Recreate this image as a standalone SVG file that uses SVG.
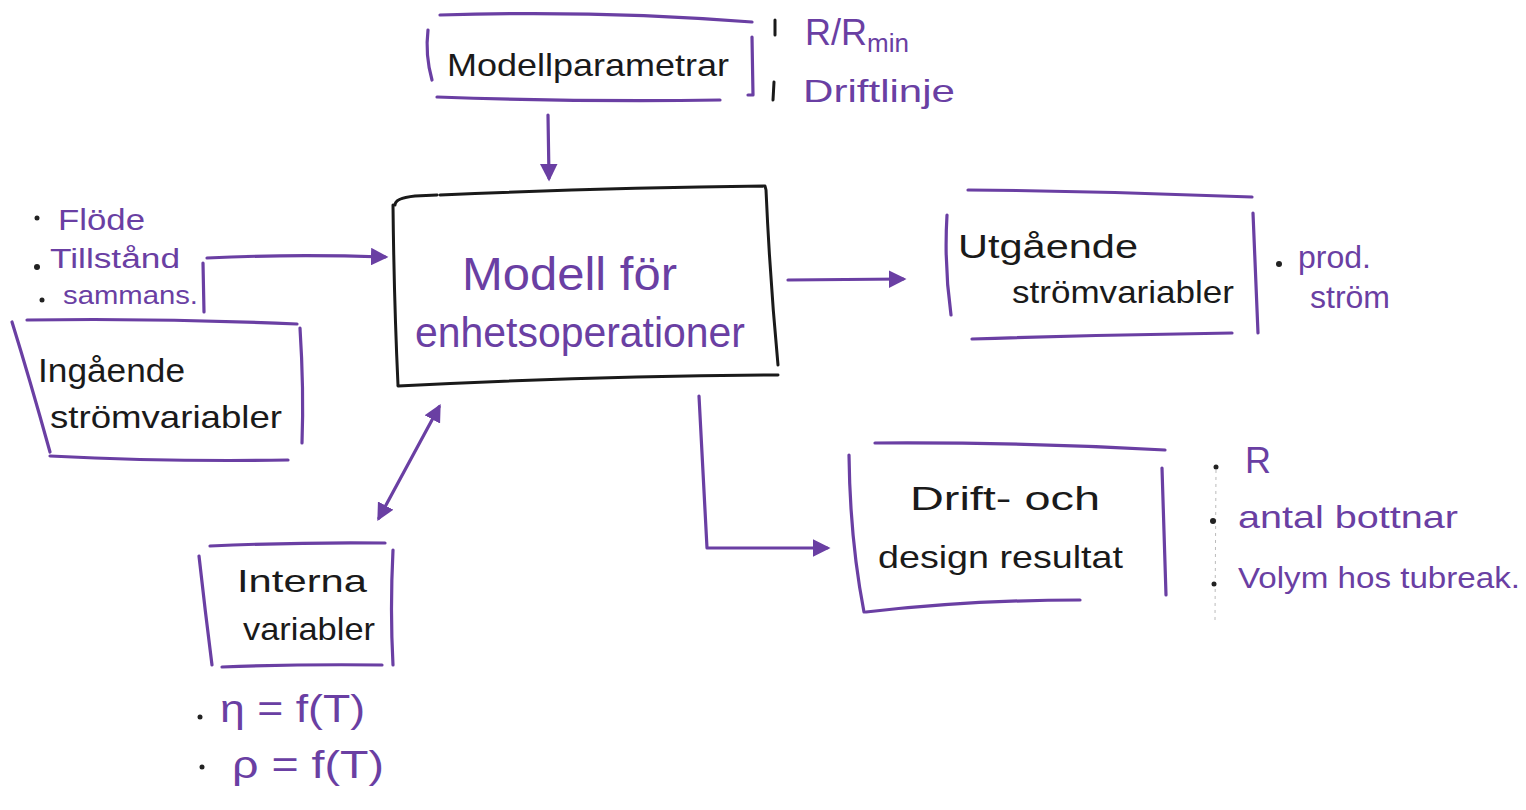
<svg xmlns="http://www.w3.org/2000/svg" width="1526" height="810" viewBox="0 0 1526 810" font-size="30">
<defs>
<style>
.p{stroke:#6a3fa3;stroke-width:3.2;fill:none;stroke-linecap:round;stroke-linejoin:round}
.k{stroke:#1a1a1a;stroke-width:3;fill:none;stroke-linecap:round;stroke-linejoin:round}
.tk{font-family:"Liberation Sans",Arial,sans-serif;fill:#1a1a1a}
.tp{font-family:"Liberation Sans",Arial,sans-serif;fill:#6a3fa3}
.dot{fill:#222}
</style>
<marker id="ah" viewBox="0 0 10 10" refX="8" refY="5" markerWidth="5.5" markerHeight="5.5" orient="auto-start-reverse" markerUnits="strokeWidth">
<path d="M0,0 L10,5 L0,10 z" fill="#6a3fa3"/>
</marker>
</defs>
<rect width="1526" height="810" fill="#ffffff"/>

<g id="modellparametrar">
<path class="p" d="M440,15 Q600,10 752,22"/>
<path class="p" d="M428,30 Q425,55 432,80"/>
<path class="p" d="M437,97 Q580,102 720,100"/>
<path class="p" d="M752,37 L753,95 L748,95"/>
<text class="tk" x="447" y="76" font-size="32" textLength="282" lengthAdjust="spacingAndGlyphs">Modellparametrar</text>
<path class="k" d="M775,20 L775,35 M774,82 L773,100"/>
<text class="tp" x="805" y="45" font-size="36">R/R<tspan font-size="26" dy="7">min</tspan></text>
<text class="tp" x="803" y="102" font-size="32" textLength="152" lengthAdjust="spacingAndGlyphs">Driftlinje</text>
</g>

<g id="modell-enhetsoperationer">
<path class="k" d="M395,205 Q395,198 415,196 L437,195 M440,195 Q600,188 765,186 L766,190 Q770,280 778,365"/>
<path class="k" d="M393,205 Q394,300 398,385"/>
<path class="k" d="M398,386 Q590,376 778,375"/>
<text class="tp" x="462" y="290" font-size="46" textLength="215" lengthAdjust="spacingAndGlyphs">Modell för</text>
<text class="tp" x="415" y="347" font-size="42" textLength="330" lengthAdjust="spacingAndGlyphs">enhetsoperationer</text>
</g>

<g id="ingaende-variabler">
<circle class="dot" cx="37" cy="218" r="2.5"/>
<circle class="dot" cx="37" cy="267" r="3"/>
<circle class="dot" cx="42" cy="300" r="2.5"/>
<text class="tp" x="58" y="230" font-size="30" textLength="87" lengthAdjust="spacingAndGlyphs">Flöde</text>
<text class="tp" x="50" y="268" font-size="27" textLength="130" lengthAdjust="spacingAndGlyphs">Tillstånd</text>
<text class="tp" x="63" y="304" font-size="26" textLength="135" lengthAdjust="spacingAndGlyphs">sammans.</text>
</g>

<g id="ingaende-strom">
<path class="p" d="M27,320 Q160,318 297,324"/>
<path class="p" d="M12,322 Q30,380 50,452"/>
<path class="p" d="M300,328 Q304,390 302,443"/>
<path class="p" d="M50,456 Q170,462 288,460"/>
<text class="tk" x="38" y="382" font-size="34" textLength="147" lengthAdjust="spacingAndGlyphs">Ingående</text>
<text class="tk" x="50" y="428" font-size="32" textLength="232" lengthAdjust="spacingAndGlyphs">strömvariabler</text>
</g>

<g id="utgaende-strom">
<path class="p" d="M968,190 Q1110,191 1252,197"/>
<path class="p" d="M947,215 Q944,265 951,315"/>
<path class="p" d="M972,339 Q1100,335 1232,333"/>
<path class="p" d="M1253,213 L1258,333"/>
<text class="tk" x="958" y="258" font-size="34" textLength="180" lengthAdjust="spacingAndGlyphs">Utgående</text>
<text class="tk" x="1012" y="303" font-size="32" textLength="222" lengthAdjust="spacingAndGlyphs">strömvariabler</text>
<circle class="dot" cx="1279" cy="264" r="3"/>
<text class="tp" x="1298" y="268" font-size="32">prod.</text>
<text class="tp" x="1310" y="308" font-size="32">ström</text>
</g>

<g id="drift-design">
<path class="p" d="M875,443 Q1020,442 1165,450"/>
<path class="p" d="M849,455 Q850,540 864,612"/>
<path class="p" d="M1162,468 L1166,595"/>
<path class="p" d="M866,612 Q970,600 1080,600"/>
<text class="tk" x="910" y="510" font-size="34" textLength="190" lengthAdjust="spacingAndGlyphs">Drift- och</text>
<text class="tk" x="878" y="568" font-size="32" textLength="245" lengthAdjust="spacingAndGlyphs">design resultat</text>
<path d="M1216,470 L1215,620" stroke="#bbb" stroke-width="1" stroke-dasharray="3 4" fill="none"/>
<circle class="dot" cx="1216" cy="467" r="2.5"/>
<circle class="dot" cx="1213" cy="521" r="3"/>
<circle class="dot" cx="1214" cy="584" r="2.5"/>
<text class="tp" x="1245" y="473" font-size="36">R</text>
<text class="tp" x="1238" y="528" font-size="32" textLength="220" lengthAdjust="spacingAndGlyphs">antal bottnar</text>
<text class="tp" x="1238" y="588" font-size="30" textLength="282" lengthAdjust="spacingAndGlyphs">Volym hos tubreak.</text>
</g>

<g id="interna-variabler">
<path class="p" d="M210,546 Q300,542 385,543"/>
<path class="p" d="M199,556 Q205,610 212,665"/>
<path class="p" d="M393,550 Q390,610 393,665"/>
<path class="p" d="M222,667 Q300,664 382,665"/>
<text class="tk" x="237" y="592" font-size="32" textLength="130" lengthAdjust="spacingAndGlyphs">Interna</text>
<text class="tk" x="243" y="640" font-size="32" textLength="132" lengthAdjust="spacingAndGlyphs">variabler</text>
<circle class="dot" cx="200" cy="717" r="2.5"/>
<circle class="dot" cx="202" cy="767" r="2.5"/>
<text class="tp" x="220" y="722" font-size="38" textLength="145" lengthAdjust="spacingAndGlyphs">η = f(T)</text>
<text class="tp" x="232" y="778" font-size="38" textLength="152" lengthAdjust="spacingAndGlyphs">ρ = f(T)</text>
</g>

<g id="connectors">
<path class="p" d="M548,115 L549,178" marker-end="url(#ah)"/>
<path class="p" d="M203,263 L204,312"/>
<path class="p" d="M207,258 Q290,254 385,257" marker-end="url(#ah)"/>
<path class="p" d="M788,280 L903,279" marker-end="url(#ah)"/>
<path class="p" d="M699,396 L707,548 L827,548" marker-end="url(#ah)"/>
<path class="p" d="M439,407 L379,518" marker-start="url(#ah)" marker-end="url(#ah)"/>
</g>
</svg>
